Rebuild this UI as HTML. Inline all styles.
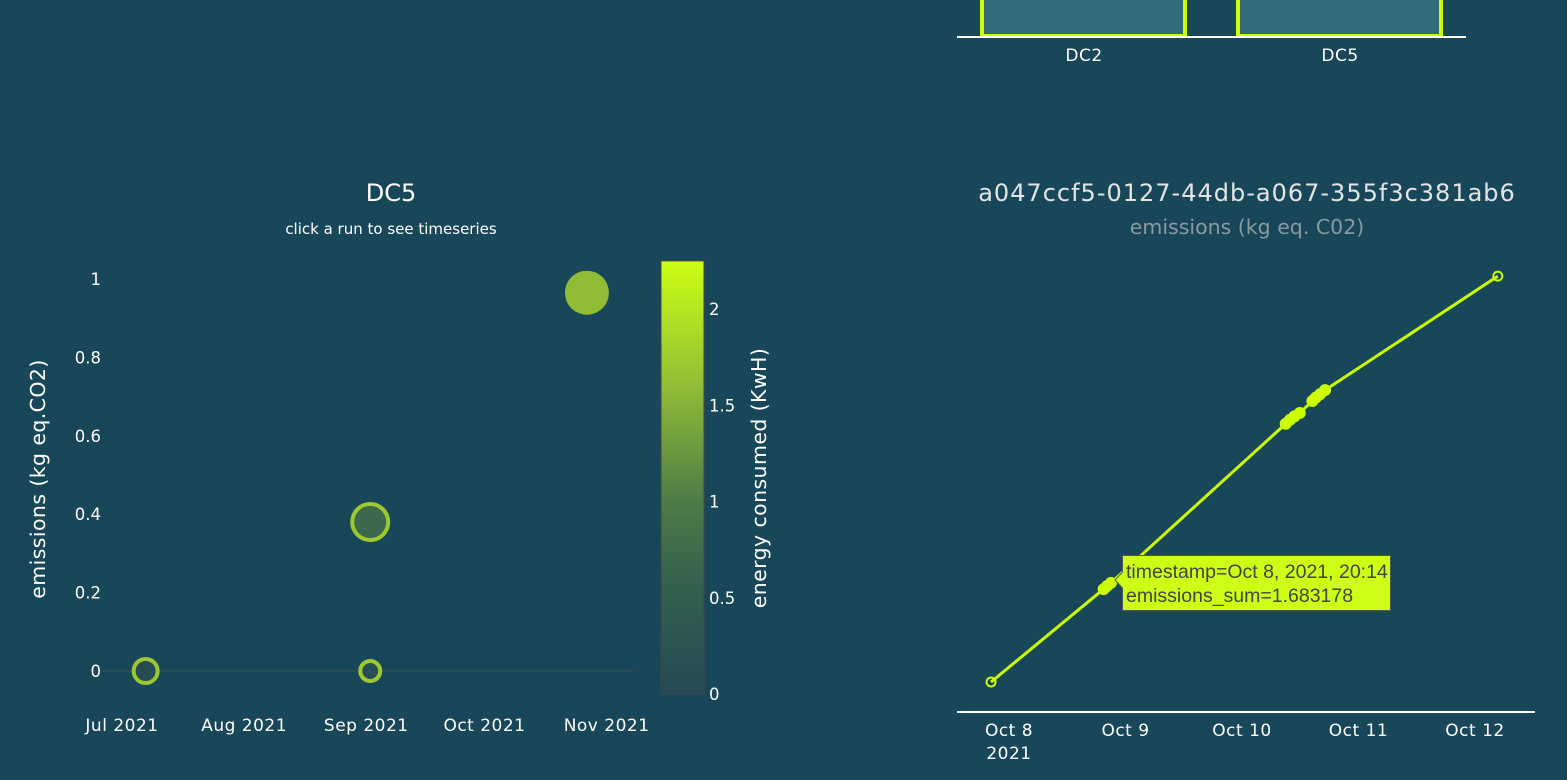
<!DOCTYPE html>
<html><head><meta charset="utf-8">
<style>
html,body{margin:0;padding:0;background:#19475a;}
svg{display:block;font-family:"DejaVu Sans","Liberation Sans",sans-serif;}
</style></head>
<body>
<svg id="s" width="1567" height="780" viewBox="0 0 1567 780" xmlns="http://www.w3.org/2000/svg">
<rect width="1567" height="780" fill="#19475a"/>
<defs>
<linearGradient id="cb" x1="0" y1="1" x2="0" y2="0">
<stop offset="0" stop-color="#254a55"/>
<stop offset="0.25" stop-color="#34604e"/>
<stop offset="0.45" stop-color="#4e7c46"/>
<stop offset="0.7" stop-color="#8fbb37"/>
<stop offset="1" stop-color="#ccff14"/>
</linearGradient>
</defs>
<g id="bar"></g>
<g id="left"></g>
<g id="right"></g>
</svg>
<script>
// ---- top bar chart data ----
const barCats = ['DC2','DC5'];
// ---- scatter data ----
const runDates = ['2021-07-07','2021-09-02','2021-09-02','2021-10-27'];
const runEmissions = [0.0, 0.38, 0.0, 0.965];
const runEnergy = [0.05, 0.7, 0.1, 1.6];
const runSizes = [12, 18, 10, 22];
const xTickLabels = ['Jul 2021','Aug 2021','Sep 2021','Oct 2021','Nov 2021'];
const xTickDates = ['2021-07-01','2021-08-01','2021-09-01','2021-10-01','2021-11-01'];
const yTicks = [0,0.2,0.4,0.6,0.8,1];
const cbTicks = [0,0.5,1,1.5,2];
// ---- timeseries data (hours since Oct 8 00:00) ----
const tsHours = [-3.7, 19.5, 20.2, 21.0, 57.0, 57.9, 58.8, 59.9, 62.5, 63.2, 64.1, 65.1, 100.7];
const tsValues = [0, 1.63, 1.683, 1.74, 4.53, 4.6, 4.66, 4.72, 4.93, 4.99, 5.05, 5.12, 7.12];
const tsTickLabels = ['Oct 8','Oct 9','Oct 10','Oct 11','Oct 12'];
const tsTickHours = [0,24,48,72,96];

const NS='http://www.w3.org/2000/svg';
function mk(parent,tag,attrs,text){const e=document.createElementNS(NS,tag);for(const k in attrs)e.setAttribute(k,attrs[k]);if(text!==undefined)e.textContent=text;parent.appendChild(e);return e;}

// bar chart
const bar=document.getElementById('bar');
const barX=b=>982+b*256;
barCats.forEach((c,i)=>{
  const r=mk(bar,'rect',{x:barX(i),y:-4,width:203,height:40,fill:'#336b7a',stroke:'#ccff00','stroke-width':4});
  
  
  const t=mk(bar,'text',{x:barX(i)+102,y:61,fill:'#fff','font-size':17,'letter-spacing':0.5,'text-anchor':'middle'},c);
  
  
});
const bl=mk(bar,'line',{x1:957,x2:1466,y1:37,y2:37,stroke:'#fff','stroke-width':2});



// scatter
const L=document.getElementById('left');
const d0=Date.parse('2021-07-01');
const xS=d=>122+(Date.parse(d)-d0)/86400000*3.94;
const yS=v=>671-v*392;
const cbY=v=>694-v*192.5;
function energyColor(e){
  const stops=[[0,[37,74,85]],[0.56,[52,96,78]],[1.0,[78,124,70]],[1.58,[143,187,55]],[2.25,[204,255,20]]];
  for(let i=1;i<stops.length;i++){if(e<=stops[i][0]){const a=stops[i-1],b=stops[i],t=(e-a[0])/(b[0]-a[0]);return 'rgb('+a[1].map((c,j)=>Math.round(c+(b[1][j]-c)*t)).join(',')+')';}}
  return 'rgb(204,255,20)';
}
let t;
t=mk(L,'text',{x:391,y:201,fill:'#fff','font-size':24,'text-anchor':'middle'},'DC5');

t=mk(L,'text',{x:391,y:234,fill:'#fff','font-size':15,'text-anchor':'middle'},'click a run to see timeseries');

const zl=mk(L,'line',{x1:100,x2:633,y1:yS(0),y2:yS(0),stroke:'#3a4c50','stroke-width':1});

yTicks.forEach(v=>{
  const e=mk(L,'text',{x:101,y:yS(v)+6,fill:'#fff','font-size':16.5,'text-anchor':'end'},String(v));
  
});
xTickLabels.forEach((lab,i)=>{
  const e=mk(L,'text',{x:xS(xTickDates[i]),y:731,fill:'#fff','font-size':17,'letter-spacing':0.5,'text-anchor':'middle'},lab);
  
});
t=mk(L,'text',{x:0,y:0,fill:'#fff','font-size':20.5,'letter-spacing':0.4,'text-anchor':'middle',transform:'translate(45,479) rotate(-90)'},'emissions (kg eq.CO2)');

runDates.forEach((d,i)=>{
  const c=mk(L,'circle',{cx:xS(d),cy:yS(runEmissions[i]),r:runSizes[i],fill:energyColor(runEnergy[i]),stroke:'#9dc832','stroke-width':runEnergy[i]>1.2?0:4});
  
  
});
const cbr=mk(L,'rect',{x:661,y:cbY(2.25),width:43,height:cbY(0)-cbY(2.25),fill:'url(#cb)',stroke:'#444','stroke-width':1});

cbTicks.forEach(v=>{
  const e=mk(L,'text',{x:709,y:cbY(v)+6,fill:'#fff','font-size':16.5},String(v));
  
});
t=mk(L,'text',{x:0,y:0,fill:'#fff','font-size':20.5,'letter-spacing':0.4,'text-anchor':'middle',transform:'translate(766,478) rotate(-90)'},'energy consumed (KwH)');


// timeseries
const R=document.getElementById('right');
const hx=h=>1009+h*116.5/24;
const vy=v=>682-v*57;
t=mk(R,'text',{x:1247,y:201,fill:'#e4e4e4','font-size':24,'letter-spacing':1,'text-anchor':'middle'},'a047ccf5-0127-44db-a067-355f3c381ab6');

t=mk(R,'text',{x:1247,y:234,fill:'#8a9aa0','font-size':20.5,'text-anchor':'middle'},'emissions (kg eq. C02)');

const ax=mk(R,'line',{x1:957,x2:1535,y1:712,y2:712,stroke:'#fff','stroke-width':2});

tsTickLabels.forEach((lab,i)=>{
  const e=mk(R,'text',{x:hx(tsTickHours[i]),y:736,fill:'#fff','font-size':17,'letter-spacing':0.5,'text-anchor':'middle'},lab);
  
});
t=mk(R,'text',{x:hx(0),y:759,fill:'#fff','font-size':17,'letter-spacing':0.5,'text-anchor':'middle'},'2021');

const pl=mk(R,'polyline',{points:tsHours.map((h,i)=>hx(h)+','+vy(tsValues[i])).join(' '),fill:'none',stroke:'#ccff00','stroke-width':3});

tsHours.forEach((h,i)=>{
  const end=(i===0||i===tsHours.length-1);
  const c=mk(R,'circle',{cx:hx(h),cy:vy(tsValues[i]),r:end?4.5:5,fill:end?'none':'#ccff00',stroke:'#ccff00','stroke-width':2});
  
  
});
const tip=mk(R,'g',{});

mk(tip,'path',{d:'M1122.5,555.5 H1390.5 V610.5 H1122.5 V588 L1115,580 L1122.5,572 Z',fill:'#ccff15',stroke:'#555','stroke-width':1});
mk(tip,'text',{x:1126,y:578,fill:'#444','font-size':19.5,'font-family':'Liberation Sans, sans-serif'},'timestamp=Oct 8, 2021, 20:14');
mk(tip,'text',{x:1126,y:602,fill:'#444','font-size':19.5,'font-family':'Liberation Sans, sans-serif'},'emissions_sum=1.683178');
</script>
</body></html>
